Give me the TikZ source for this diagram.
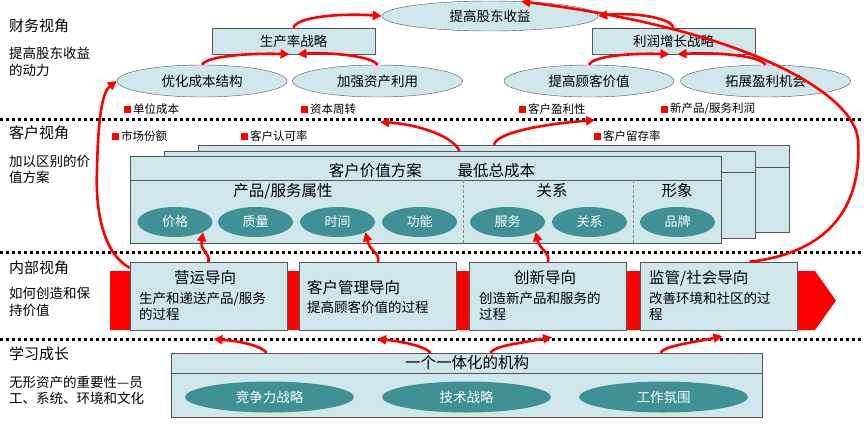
\documentclass[tikz,border=0pt]{standalone}
\usepackage{fontspec}
\setmainfont{Noto Sans CJK SC}
\usepackage{tikz}
\usetikzlibrary{arrows.meta, shapes.geometric}

\definecolor{paleblue}{RGB}{207,231,235}
\definecolor{tealfill}{RGB}{63,145,150}
\definecolor{boxline}{RGB}{85,85,85}
\newcommand{\redsq}{{\color{red}\rule{7pt}{7pt}}\,}

\begin{document}
\begin{tikzpicture}[x=1pt, y=-1pt,
    sect title/.style={anchor=west, inner sep=0pt, font=\fontsize{15}{17}\selectfont},
    sect note/.style={anchor=west, inner sep=0pt, align=left, font=\fontsize{13.5}{16.5}\selectfont},
    goal/.style={draw=boxline, fill=paleblue, ellipse, inner sep=0pt, minimum width=170pt, minimum height=32pt, font=\fontsize{13.5}{15}\selectfont},
    strategy/.style={draw=boxline, fill=paleblue, inner sep=0pt, minimum width=163pt, minimum height=26pt, font=\fontsize{13.5}{15}\selectfont},
    measure/.style={anchor=west, inner sep=0pt, font=\fontsize{11.5}{13}\selectfont},
    valuebox/.style={draw=boxline, fill=paleblue, inner sep=0pt, minimum width=591pt, minimum height=87pt},
    attr/.style={ellipse, fill=tealfill, text=white, inner sep=0pt, minimum width=75pt, minimum height=30pt, font=\fontsize{13}{15}\selectfont},
    procbox/.style={draw=boxline, fill=paleblue, inner sep=0pt, minimum width=157pt, minimum height=68pt},
    proc title/.style={inner sep=0pt, font=\fontsize{15.5}{17}\selectfont},
    proc text/.style={anchor=west, inner sep=0pt, align=left, font=\fontsize{13.5}{16}\selectfont},
    capab/.style={ellipse, fill=tealfill, text=white, inner sep=0pt, minimum width=169pt, minimum height=31pt, font=\fontsize{13.5}{15}\selectfont},
    sepline/.style={line width=3pt, dash pattern=on 3pt off 3pt},
    flow/.style={red, line width=2.6pt, -{Triangle[length=9pt, width=9pt]}}]
    \useasboundingbox (0,0) rectangle (864,424);

    % perspective separators
    \draw[sepline] (0,119) -- (864,119);
    \draw[sepline] (0,252) -- (864,252);
    \draw[sepline] (0,339) -- (864,339);

    % left column
    \node[sect title] (fin) at (9,26) {财务视角};
    \node[sect note] (finnote) at (9,62) {提高股东收益\\的动力};
    \node[sect title] (cus) at (9,133) {客户视角};
    \node[sect note] (cusnote) at (9,169.5) {加以区别的价\\值方案};
    \node[sect title] (int) at (9,268) {内部视角};
    \node[sect note] (intnote) at (9,302) {如何创造和保\\持价值};
    \node[sect title] (lrn) at (9,354) {学习成长};
    \node[sect note] (lrnnote) at (9,390.5) {无形资产的重要性—员\\工、系统、环境和文化};

    % financial perspective
    \node[goal, minimum width=216pt, minimum height=30pt] (roe) at (490,16) {提高股东收益};
    \node[strategy] (prod) at (293.5,41) {生产率战略};
    \node[strategy] (growth) at (673.5,41) {利润增长战略};
    \node[goal] (cost) at (202,81) {优化成本结构};
    \node[goal] (asset) at (377.5,81) {加强资产利用};
    \node[goal] (custval) at (589,81) {提高顾客价值};
    \node[goal] (expand) at (765.5,81) {拓展盈利机会};

    \node[measure] (unitcost) at (124,109) {\redsq 单位成本};
    \node[measure] (capturn) at (301,109) {\redsq 资本周转};
    \node[measure] (custprof) at (519,109) {\redsq 客户盈利性};
    \node[measure] (newprof) at (661,109) {\redsq 新产品/服务利润};

    % customer perspective
    \node[measure] (share) at (112,136) {\redsq 市场份额};
    \node[measure] (accept) at (241,136) {\redsq 客户认可率};
    \node[measure] (retain) at (594,136) {\redsq 客户留存率};

    \node[valuebox] (cvpC) at (494,188.5) {};
    \draw[boxline] ([yshift=-22pt]cvpC.north west) -- ([yshift=-22pt]cvpC.north east);
    \node[valuebox] (cvpB) at (459.5,194.5) {};
    \draw[boxline] ([yshift=-21pt]cvpB.north west) -- ([yshift=-21pt]cvpB.north east);
    \node[valuebox] (cvpA) at (426,199.5) {};
    \draw[boxline] ([yshift=-24pt]cvpA.north west) -- ([yshift=-24pt]cvpA.north east);
    \draw[boxline!70, densely dashed] (463,180) -- (463,243);
    \draw[boxline!70, densely dashed] (633,180) -- (633,243);

    \node[proc title] (cvptitle) at (432,171) {客户价值方案\hspace{36pt}最低总成本};
    \node[proc title] (attrtitle) at (283,191) {产品/服务属性};
    \node[proc title] (reltitle) at (552,191) {关系};
    \node[proc title] (imgtitle) at (677,191) {形象};

    \node[attr] (price) at (175,222) {价格};
    \node[attr] (quality) at (255.5,222) {质量};
    \node[attr] (time) at (337.5,222) {时间};
    \node[attr] (func) at (419.5,222) {功能};
    \node[attr] (serv) at (507.5,222) {服务};
    \node[attr] (rel) at (589.5,222) {关系};
    \node[attr] (brand) at (677.5,222) {品牌};

    % internal perspective
    \fill[red] (110,271) -- (815,271) -- (836,300.5) -- (815,330) -- (110,330) -- cycle;
    \node[procbox] (ops) at (208.5,296) {};
    \node[procbox] (cust) at (378,296) {};
    \node[procbox] (innov) at (548,296) {};
    \node[procbox] (reg) at (718.5,296) {};

    \node[proc title] (opstitle) at (205,278) {营运导向};
    \node[proc text] (opstext) at (139,306) {生产和递送产品/服务\\的过程};
    \node[proc title, anchor=west] (custtitle) at (307,288) {客户管理导向};
    \node[proc text] (custtext) at (307,307) {提高顾客价值的过程};
    \node[proc title] (innovtitle) at (545,278) {创新导向};
    \node[proc text] (innovtext) at (479,306) {创造新产品和服务的\\过程};
    \node[proc title, anchor=west] (regtitle) at (649,278) {监管/社会导向};
    \node[proc text] (regtext) at (649,306) {改善环境和社区的过\\程};

    % learning and growth
    \node[valuebox, minimum height=64pt] (org) at (466.5,385) {};
    \draw[boxline] ([yshift=-20pt]org.north west) -- ([yshift=-20pt]org.north east);
    \node[proc title] (orgtitle) at (467,363) {一个一体化的机构};
    \node[capab] (compet) at (269.5,397) {竞争力战略};
    \node[capab] (tech) at (466.5,397) {技术战略};
    \node[capab] (climate) at (663.5,397) {工作氛围};

    % cause and effect arrows
    \coordinate (turnover) at (380,122);
    \coordinate (profitab) at (595,120);

    \draw[flow] (prod.north) .. controls (296,17) and (340,13) .. (roe.west);
    \draw[flow] (growth.north) .. controls (671,17) and (630,12) .. (roe.east);
    \draw[flow] (cost.north) .. controls (206,56) and (250,53) .. ([xshift=-4pt]prod.south);
    \draw[flow] (asset.north) .. controls (372,56) and (330,52) .. ([xshift=4pt]prod.south);
    \draw[flow] (custval.north) .. controls (593,56) and (630,53) .. ([xshift=-4pt]growth.south);
    \draw[flow] (expand.north) .. controls (760,56) and (720,52) .. ([xshift=4pt]growth.south);

    \draw[flow] ([xshift=31pt]reg.north) .. controls (835,252) and (862,200) .. (858,140)
        .. controls (855,95) and (750,30) .. (roe.25);
    \draw[flow] ([yshift=-6pt]ops.north west) .. controls (105,255) and (95,215) .. (97,170)
        .. controls (98,120) and (102,92) .. (cost.west);

    \draw[flow] (cvpB.north) .. controls (452,135) and (415,124) .. (turnover);
    \draw[flow] (cvpC.north) .. controls (497,132) and (545,124) .. (profitab);

    \draw[flow] (ops.north) .. controls (210,252) and (200,252) .. (price.-20);
    \draw[flow] (cust.north) .. controls (380,252) and (370,252) .. (time.-20);
    \draw[flow] (innov.north) .. controls (550,252) and (540,250) .. (serv.-20);

    \draw[flow] ([xshift=-200pt]org.north) .. controls (262,346) and (240,341) .. ([xshift=5pt,yshift=-9pt]ops.south);
    \draw[flow] ([xshift=-36pt]org.north) .. controls (425,346) and (400,341) .. ([xshift=-1pt,yshift=-9pt]cust.south);
    \draw[flow] ([xshift=24pt]org.north) .. controls (494,346) and (520,343) .. ([xshift=4pt,yshift=-7pt]innov.south);
    \draw[flow] ([xshift=194pt]org.north) .. controls (664,346) and (690,343) .. ([xshift=4pt,yshift=-6pt]reg.south);
\end{tikzpicture}
\end{document}
